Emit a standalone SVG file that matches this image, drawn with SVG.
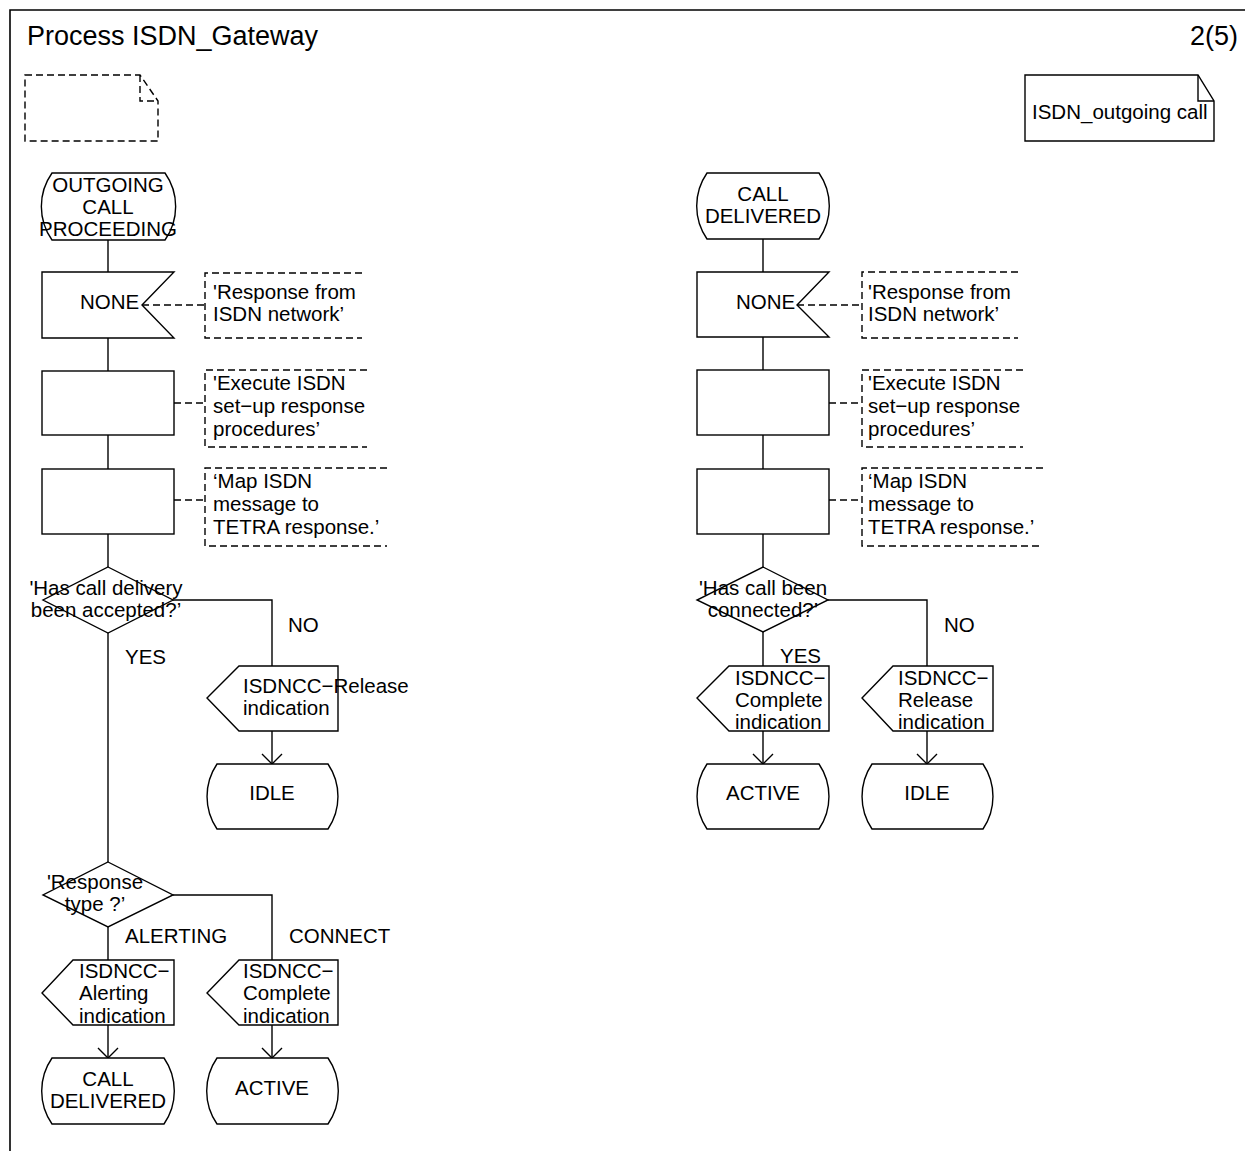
<svg xmlns="http://www.w3.org/2000/svg" width="1245" height="1151" viewBox="0 0 1245 1151">
  <style>
    .ln { fill: none; stroke: #000; stroke-width: 1.4; }
    .sh { fill: #fff; stroke: #000; stroke-width: 1.4; }
    .dash { fill: none; stroke: #000; stroke-width: 1.4; stroke-dasharray: 7 4; }
    text { font-family: "Liberation Sans", Arial, sans-serif; font-size: 20.5px; fill: #000; }
    .c { text-anchor: middle; }
    .title { font-size: 27px; }
  </style>
  <defs>
    <marker id="arr" markerWidth="24" markerHeight="24" refX="12" refY="12" orient="auto" markerUnits="userSpaceOnUse">
      <path d="M2,2 L12,12 L2,22" fill="none" stroke="#000" stroke-width="1.4"/>
    </marker>
  </defs>

  <!-- frame -->
  <path d="M10,1151 V10 H1245" fill="none" stroke="#000" stroke-width="1.6"/>
  <text class="title" x="27" y="45">Process ISDN_Gateway</text>
  <text class="title" x="1190" y="45">2(5)</text>

  <!-- empty dashed text symbol -->
  <g id="textsym-empty">
    <path class="dash" d="M25,75 H140 L158,101 V141 H25 Z"/>
    <path class="dash" d="M140,75 V101 H158"/>
  </g>

  <!-- procedure reference -->
  <g id="ref-outgoing">
    <path class="sh" d="M1025,75 H1198 L1214,101 V141 H1025 Z"/>
    <path class="ln" d="M1198,75 V101 H1214"/>
    <text x="1032" y="119">ISDN_outgoing call</text>
  </g>

  <!-- connectors -->
  <g id="connectors">
    <!-- left column -->
    <path class="ln" d="M108,240 V272"/>
    <path class="ln" d="M108,338 V371"/>
    <path class="ln" d="M108,435 V469"/>
    <path class="ln" d="M108,534 V567"/>
    <path class="ln" d="M108,633 V862"/>
    <path class="ln" d="M173,600 H272 V666"/>
    <path class="ln" d="M272,731 V764" marker-end="url(#arr)"/>
    <path class="ln" d="M108,927 V960"/>
    <path class="ln" d="M173,895 H272 V960"/>
    <path class="ln" d="M108,1025 V1058" marker-end="url(#arr)"/>
    <path class="ln" d="M272,1025 V1058" marker-end="url(#arr)"/>
    <!-- right column -->
    <path class="ln" d="M763,239 V272"/>
    <path class="ln" d="M763,337 V370"/>
    <path class="ln" d="M763,435 V469"/>
    <path class="ln" d="M763,534 V567"/>
    <path class="ln" d="M763,632 V666"/>
    <path class="ln" d="M828,600 H927 V666"/>
    <path class="ln" d="M763,731 V764" marker-end="url(#arr)"/>
    <path class="ln" d="M927,731 V764" marker-end="url(#arr)"/>
    <!-- comment links -->
    <path class="dash" d="M142,305 H205"/>
    <path class="dash" d="M174,403 H205"/>
    <path class="dash" d="M174,500 H205"/>
    <path class="dash" d="M797,305 H862"/>
    <path class="dash" d="M829,403 H862"/>
    <path class="dash" d="M829,500 H862"/>
    <!-- branch labels -->
    <text x="288" y="632">NO</text>
    <text x="125" y="664">YES</text>
    <text x="125" y="943">ALERTING</text>
    <text x="289" y="943">CONNECT</text>
    <text x="944" y="632">NO</text>
    <text x="780" y="663">YES</text>
  </g>

  <!-- ===== left column ===== -->
  <g id="state-outgoing-proceeding">
    <path class="sh" d="M52,173 H165 A58,58 0 0 1 165,240 H52 A58,58 0 0 1 52,173 Z"/>
    <text class="c" x="108" y="192">OUTGOING</text>
    <text class="c" x="108" y="214">CALL</text>
    <text class="c" x="108" y="236">PROCEEDING</text>
  </g>

  <g id="input-none-1">
    <path class="sh" d="M42,272 H174 L142,305 L174,338 H42 Z"/>
    <text x="80" y="309">NONE</text>
  </g>
  <g id="comment-1">
    <path class="dash" d="M362,273 H205 V338 H362"/>
    <text x="213" y="299">'Response from</text>
    <text x="213" y="321">ISDN network’</text>
  </g>

  <g id="task-1">
    <rect class="sh" x="42" y="371" width="132" height="64"/>
  </g>
  <g id="comment-2">
    <path class="dash" d="M367,370 H205 V447 H367"/>
    <text x="213" y="390">'Execute ISDN</text>
    <text x="213" y="413">set−up response</text>
    <text x="213" y="436">procedures’</text>
  </g>

  <g id="task-2">
    <rect class="sh" x="42" y="469" width="132" height="65"/>
  </g>
  <g id="comment-3">
    <path class="dash" d="M387,468 H205 V546 H387"/>
    <text x="213" y="488">‘Map ISDN</text>
    <text x="213" y="511">message to</text>
    <text x="213" y="534">TETRA response.’</text>
  </g>

  <g id="decision-accepted">
    <path class="sh" d="M108,567 L173,600 L108,633 L43,600 Z"/>
    <text class="c" x="106" y="595">'Has call delivery</text>
    <text class="c" x="106" y="617">been accepted?’</text>
  </g>

  <g id="output-release-1">
    <path class="sh" d="M239,666 H338 V731 H239 L207,698 Z"/>
    <text x="243" y="693">ISDNCC−Release</text>
    <text x="243" y="715">indication</text>
  </g>

  <g id="state-idle-1">
    <path class="sh" d="M217,764 H328 A58,58 0 0 1 328,829 H217 A58,58 0 0 1 217,764 Z"/>
    <text class="c" x="272" y="800">IDLE</text>
  </g>

  <g id="decision-response-type">
    <path class="sh" d="M108,862 L173,895 L108,927 L43,895 Z"/>
    <text class="c" x="95" y="889">'Response</text>
    <text class="c" x="95" y="911">type ?’</text>
  </g>

  <g id="output-alerting">
    <path class="sh" d="M73,960 H174 V1025 H73 L42,993 Z"/>
    <text x="79" y="978">ISDNCC−</text>
    <text x="79" y="1000">Alerting</text>
    <text x="79" y="1023">indication</text>
  </g>

  <g id="output-complete-1">
    <path class="sh" d="M239,960 H338 V1025 H239 L207,993 Z"/>
    <text x="243" y="978">ISDNCC−</text>
    <text x="243" y="1000">Complete</text>
    <text x="243" y="1023">indication</text>
  </g>

  <g id="state-call-delivered-1">
    <path class="sh" d="M52,1058 H164 A58,58 0 0 1 164,1124 H52 A58,58 0 0 1 52,1058 Z"/>
    <text class="c" x="108" y="1086">CALL</text>
    <text class="c" x="108" y="1108">DELIVERED</text>
  </g>

  <g id="state-active-1">
    <path class="sh" d="M217,1058 H328 A58,58 0 0 1 328,1124 H217 A58,58 0 0 1 217,1058 Z"/>
    <text class="c" x="272" y="1095">ACTIVE</text>
  </g>

  <!-- ===== right column ===== -->
  <g id="state-call-delivered-2">
    <path class="sh" d="M707,173 H819 A58,58 0 0 1 819,239 H707 A58,58 0 0 1 707,173 Z"/>
    <text class="c" x="763" y="201">CALL</text>
    <text class="c" x="763" y="223">DELIVERED</text>
  </g>

  <g id="input-none-2">
    <path class="sh" d="M697,272 H829 L797,305 L829,337 H697 Z"/>
    <text x="736" y="309">NONE</text>
  </g>
  <g id="comment-4">
    <path class="dash" d="M1018,272 H862 V338 H1018"/>
    <text x="868" y="299">'Response from</text>
    <text x="868" y="321">ISDN network’</text>
  </g>

  <g id="task-3">
    <rect class="sh" x="697" y="370" width="132" height="65"/>
  </g>
  <g id="comment-5">
    <path class="dash" d="M1023,370 H862 V447 H1023"/>
    <text x="868" y="390">'Execute ISDN</text>
    <text x="868" y="413">set−up response</text>
    <text x="868" y="436">procedures’</text>
  </g>

  <g id="task-4">
    <rect class="sh" x="697" y="469" width="132" height="65"/>
  </g>
  <g id="comment-6">
    <path class="dash" d="M1043,468 H862 V546 H1043"/>
    <text x="868" y="488">‘Map ISDN</text>
    <text x="868" y="511">message to</text>
    <text x="868" y="534">TETRA response.’</text>
  </g>

  <g id="decision-connected">
    <path class="sh" d="M763,567 L828,600 L763,632 L697,600 Z"/>
    <text class="c" x="763" y="595">'Has call been</text>
    <text class="c" x="763" y="617">connected?’</text>
  </g>

  <g id="output-complete-2">
    <path class="sh" d="M729,666 H829 V731 H729 L697,698 Z"/>
    <text x="735" y="685">ISDNCC−</text>
    <text x="735" y="707">Complete</text>
    <text x="735" y="729">indication</text>
  </g>

  <g id="output-release-2">
    <path class="sh" d="M893,666 H993 V731 H893 L862,698 Z"/>
    <text x="898" y="685">ISDNCC−</text>
    <text x="898" y="707">Release</text>
    <text x="898" y="729">indication</text>
  </g>

  <g id="state-active-2">
    <path class="sh" d="M707,764 H819 A58,58 0 0 1 819,829 H707 A58,58 0 0 1 707,764 Z"/>
    <text class="c" x="763" y="800">ACTIVE</text>
  </g>

  <g id="state-idle-2">
    <path class="sh" d="M872,764 H983 A58,58 0 0 1 983,829 H872 A58,58 0 0 1 872,764 Z"/>
    <text class="c" x="927" y="800">IDLE</text>
  </g>
</svg>
